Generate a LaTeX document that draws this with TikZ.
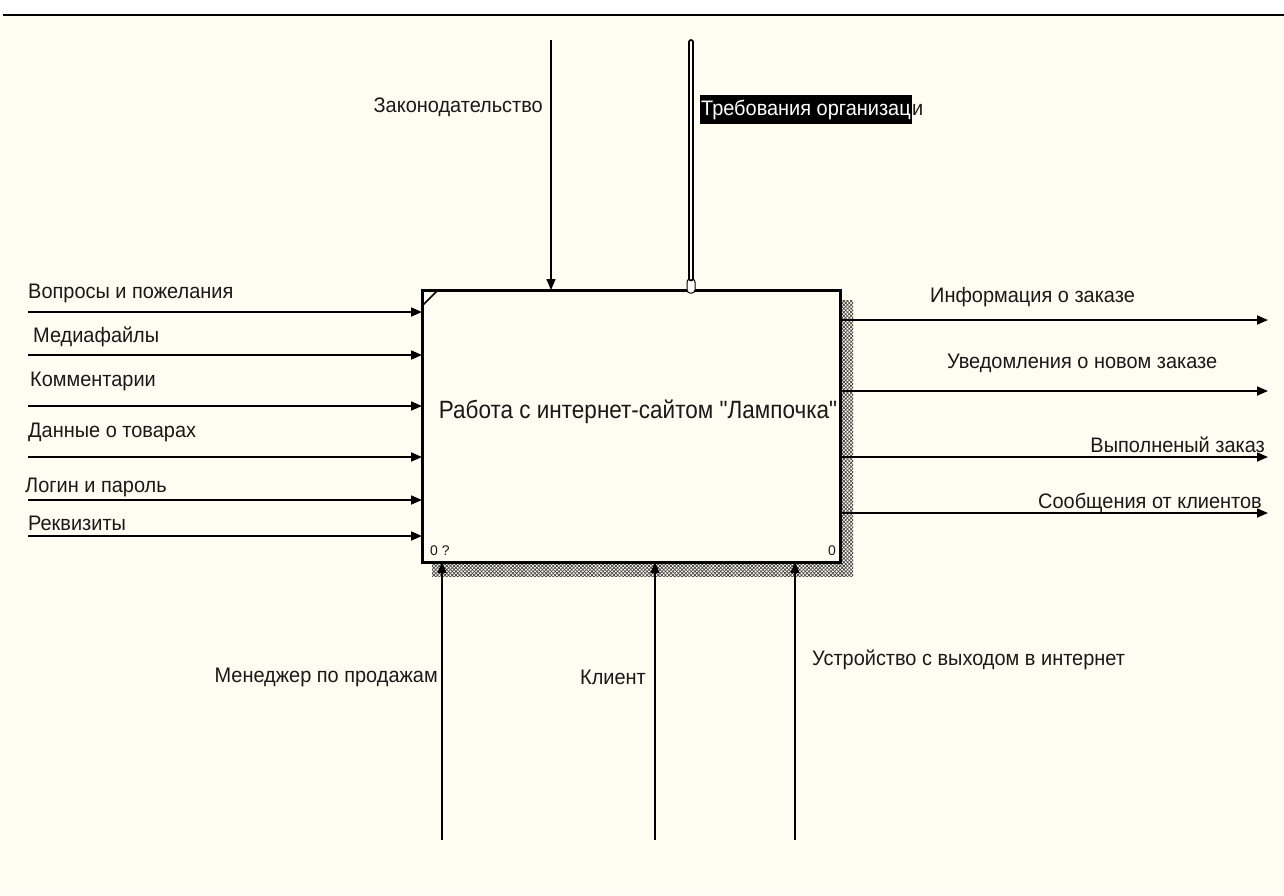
\documentclass[tikz,border=0pt]{standalone}
\usepackage{fontspec}
\setmainfont{Liberation Sans}
\newfontfamily\narrowfont[FakeStretch=0.9]{Liberation Sans}
\newfontfamily\lblfont[FakeStretch=0.95]{Liberation Sans}
\usetikzlibrary{arrows.meta,patterns.meta}
\definecolor{bgc}{RGB}{255,252,241}
\definecolor{txt}{RGB}{25,25,25}
\begin{document}
\begin{tikzpicture}[x=1pt,y=-1pt,
  lbl/.style={font=\lblfont\fontsize{21}{24}\selectfont, inner sep=0pt, text=txt},
  arr/.style={line width=1.7pt, -{Triangle[length=11pt,width=9pt]}},
  arrv/.style={line width=1.4pt, -{Triangle[length=11pt,width=9pt]}},
  num/.style={font=\fontsize{14}{15}\selectfont, inner sep=0pt, text=txt}]
\useasboundingbox (0,0) rectangle (1284,895);
\fill[white] (0,0) rectangle (1284,895);
\fill[bgc] (0,16) rectangle (1284,895);
\draw[line width=2.5pt] (3,15) -- (1284,15);
% shadow
\fill[pattern={Lines[angle=45,distance=2.6pt,line width=0.7pt]}, pattern color=black!75] (432,300) rectangle (853,576);
\fill[pattern={Lines[angle=-45,distance=2.6pt,line width=0.7pt]}, pattern color=black!75] (432,300) rectangle (853,576);
% box
\node[draw, line width=3pt, fill=bgc, minimum width=418pt, minimum height=272pt, inner sep=0pt, outer sep=0pt] (box) at (631,426) {};
\draw[line width=1.6pt] ([yshift=-16pt]box.north west) -- ([xshift=16pt]box.north west);
\node[font=\narrowfont\fontsize{25}{30}\selectfont, inner sep=0pt, text=txt] (title) at (638,412) {Работа с интернет-сайтом \symbol{34}Лампочка\symbol{34}};
\node[num, anchor=base west] (n1) at (430,555) {0 ?};
\node[num, anchor=base east] (n2) at (836,555) {0};
% inputs
\coordinate (i1) at (28,312);
\coordinate (i2) at (28,355);
\coordinate (i3) at (28,406);
\coordinate (i4) at (28,457);
\coordinate (i5) at (28,500);
\coordinate (i6) at (28,536);
\foreach \i in {1,...,6} {\draw[arr] (i\i) -- (i\i -| box.west);}
\node[lbl, anchor=base west] (li1) at (28,298) {Вопросы и пожелания};
\node[lbl, anchor=base west] (li2) at (33,342) {Медиафайлы};
\node[lbl, anchor=base west] (li3) at (30,386) {Комментарии};
\node[lbl, anchor=base west] (li4) at (28,437) {Данные о товарах};
\node[lbl, anchor=base west] (li5) at (25,492) {Логин и пароль};
\node[lbl, anchor=base west] (li6) at (28,530) {Реквизиты};
% outputs
\coordinate (o1) at (1268,320);
\coordinate (o2) at (1268,391);
\coordinate (o3) at (1268,457);
\coordinate (o4) at (1268,513);
\foreach \i in {1,...,4} {\draw[arr] (o\i -| box.east) -- (o\i);}
\node[lbl, anchor=base west] (lo1) at (930,302) {Информация о заказе};
\node[lbl, anchor=base west] (lo2) at (947,368) {Уведомления о новом заказе};
\node[lbl, anchor=base east] (lo3) at (1265,452) {Выполненый заказ};
\node[lbl, anchor=base east] (lo4) at (1262,508) {Сообщения от клиентов};
% controls
\coordinate (c1) at (551,40);
\draw[arrv] (c1) -- (c1 |- box.north);
\node[lbl, anchor=base east] (lc1) at (543,112) {Законодательство};
\coordinate (c2) at (691,42);
\node[draw, fill=white, rounded corners=3pt, minimum width=8pt, minimum height=14pt, inner sep=0pt, line width=1pt] (tun) at (691,286) {};
\draw[line width=1.8pt, double=bgc, double distance=2.2pt, line cap=round] (c2) -- (tun.north);
\node[lbl, anchor=base west, fill=black, text=white, inner xsep=1pt, inner ysep=5pt] (lc2a) at (700,115) {Требования организац};
\node[lbl, anchor=base west] (lc2b) at (lc2a.base east) {и};
% mechanisms
\coordinate (m1) at (442,840);
\coordinate (m2) at (655,840);
\coordinate (m3) at (795,840);
\foreach \i in {1,2,3} {\draw[arrv] (m\i) -- (m\i |- box.south);}
\node[lbl, anchor=base east] (lm1) at (438,682) {Менеджер по продажам};
\node[lbl, anchor=base west] (lm2) at (580,684) {Клиент};
\node[lbl, anchor=base west] (lm3) at (812,665) {Устройство с выходом в интернет};
\end{tikzpicture}
\end{document}
